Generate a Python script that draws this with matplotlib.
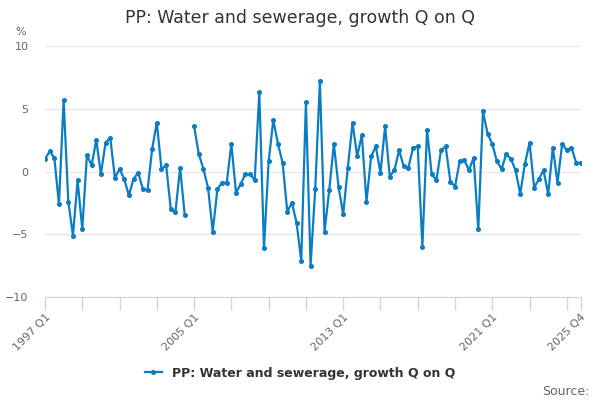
import numpy as np
import matplotlib
matplotlib.use("Agg")
import matplotlib.pyplot as plt

# quarterly series, 1997 Q1 .. 2025 Q4 (2004 Q4 missing)
years = list(range(1997, 2026))
quarter_labels = [f"{y} Q{q}" for y in years for q in range(1, 5)]

growth = [
    1.0, 1.6, 1.1, -2.6, 5.7, -2.4, -5.1, -0.7, -4.6, 1.3, 0.5, 2.5,
    -0.2, 2.3, 2.7, -0.5, 0.2, -0.6, -1.9, -0.6, -0.1, -1.4, -1.5, 1.8,
    3.9, 0.2, 0.5, -3.0, -3.2, 0.3, -3.5, np.nan,
    3.6, 1.4, 0.2, -1.3, -4.8, -1.4, -0.9, -0.9, 2.2, -1.7, -1.0, -0.2,
    -0.2, -0.7, 6.3, -6.1, 0.8, 4.1, 2.2, 0.7, -3.2, -2.5, -4.1, -7.1,
    5.5, -7.5, -1.4, 7.2, -4.8, -1.5, 2.2, -1.2, -3.4, 0.3, 3.9, 1.2,
    2.9, -2.4, 1.2, 2.0, -0.1, 3.6, -0.4, 0.1, 1.7, 0.4, 0.3, 1.9,
    2.0, -6.0, 3.3, -0.2, -0.7, 1.7, 2.0, -0.8, -1.2, 0.8, 0.9, 0.1,
    1.1, -4.6, 4.8, 3.0, 2.2, 0.8, 0.2, 1.4, 1.0, 0.1, -1.8, 0.6,
    2.3, -1.3, -0.6, 0.1, -1.8, 1.9, -0.9, 2.2, 1.7, 1.9, 0.7, 0.7,
]

tick_every = 8
label_quarters = ["1997 Q1", "2005 Q1", "2013 Q1", "2021 Q1", "2025 Q4"]
series_name = "PP: Water and sewerage, growth Q on Q"

line_color = "#0b7dc2"
text_grey = "#666666"

fig = plt.figure(figsize=(6, 4), dpi=100)
ax = fig.add_axes([0.075, 0.2575, 0.893, 0.6275])

for side in ["top", "right", "left"]:
    ax.spines[side].set_visible(False)
ax.spines["bottom"].set_color("#ccd6eb")

x = np.arange(len(quarter_labels))
ax.plot(x, growth, color=line_color, lw=1.6, marker="o", ms=2.6,
        label=series_name)

ax.set_xlim(0, len(quarter_labels) - 1)
ax.set_ylim(-10, 10)
ax.set_yticks([-10, -5, 0, 5, 10])
ax.grid(axis="y", color="#e6e6e6", lw=0.9)
ax.set_axisbelow(True)

tick_pos = list(x[::tick_every]) + [x[-1]]
ax.set_xticks(tick_pos)
ax.set_xticklabels([quarter_labels[i] if quarter_labels[i] in label_quarters else ""
                    for i in tick_pos], rotation=45, ha="right",
                   rotation_mode="anchor", fontsize=8, color=text_grey)
ax.tick_params(axis="x", length=9, color="#ccd6eb", width=1, pad=2)
ax.tick_params(axis="y", length=0, labelsize=8, labelcolor=text_grey, pad=12)

fig.text(0.5, 0.955, series_name, ha="center", va="center",
         fontsize=12.5, color="#333333")
fig.text(0.025, 0.92, "%", ha="left", va="center", fontsize=8, color=text_grey)

leg = fig.legend(loc="center", bbox_to_anchor=(0.5, 0.067), frameon=False,
                 handlelength=1.4, fontsize=9)
for t in leg.get_texts():
    t.set_fontweight("bold")
    t.set_color("#333333")

fig.text(0.983, 0.022, "Source:", ha="right", va="center",
         fontsize=9, color=text_grey)

fig.savefig("out.png", dpi=100)
